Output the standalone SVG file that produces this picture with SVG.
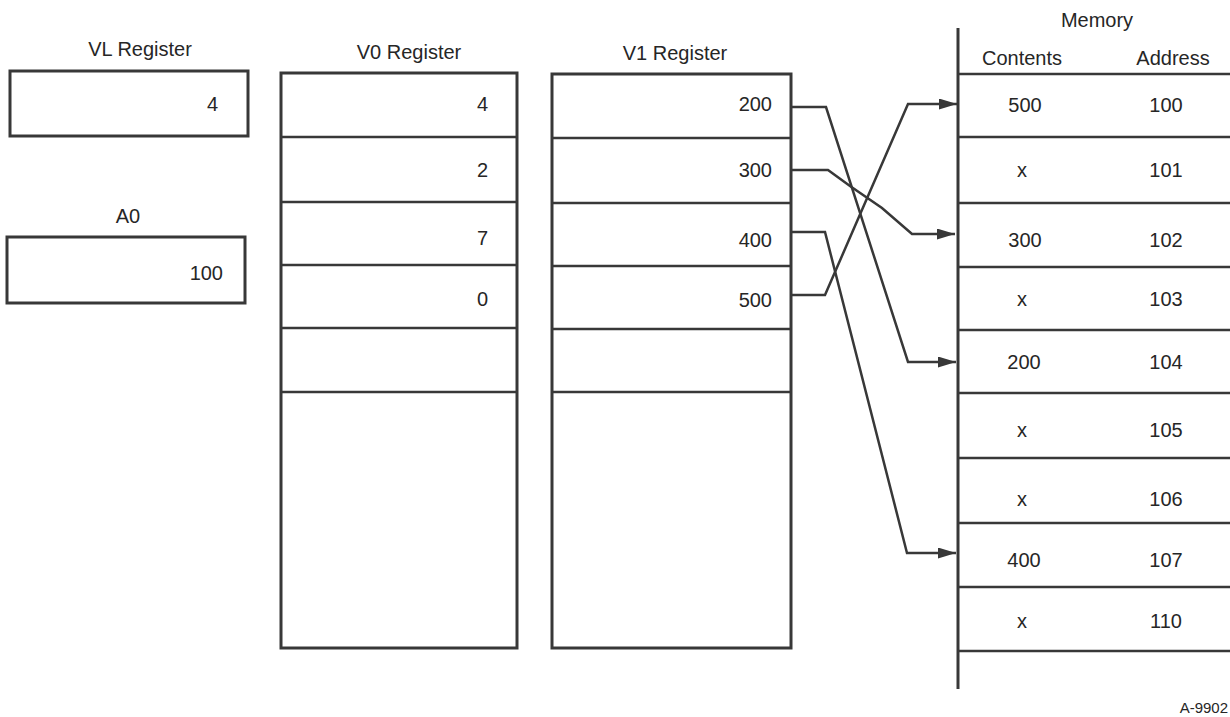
<svg xmlns="http://www.w3.org/2000/svg" width="1230" height="717" viewBox="0 0 1230 717">
<style>
  .bg { fill: #ffffff; }
  .box { fill: none; stroke: #383838; stroke-width: 3; }
  .div { stroke: #383838; stroke-width: 2.5; fill: none; }
  .lbl { font-family: "Liberation Sans", Arial, sans-serif; font-size: 20px; fill: #262626; }
  .mid { text-anchor: middle; }
  .end { text-anchor: end; }
  .conn { fill: none; stroke: #383838; stroke-width: 2.5; stroke-linejoin: miter; }
  .tag { font-family: "Liberation Sans", Arial, sans-serif; font-size: 15px; fill: #262626; }
</style>
<defs>
  <marker id="arrow" markerUnits="userSpaceOnUse" markerWidth="18" markerHeight="12" refX="18" refY="5.5" orient="auto">
    <path d="M0,0 L18,5.5 L0,11 z" fill="#383838"/>
  </marker>
</defs>
<rect class="bg" x="0" y="0" width="1230" height="717"/>

<g id="vl-register">
  <text class="lbl mid" x="140" y="56">VL Register</text>
  <rect class="box" x="10" y="71" width="238" height="65"/>
  <text class="lbl end" x="218" y="111">4</text>
</g>

<g id="a0-register">
  <text class="lbl mid" x="128" y="223">A0</text>
  <rect class="box" x="7" y="237" width="238" height="66"/>
  <text class="lbl end" x="223" y="280">100</text>
</g>

<g id="v0-register">
  <text class="lbl mid" x="409" y="59">V0 Register</text>
  <rect class="box" x="281" y="73" width="236" height="575"/>
  <line class="div" x1="281" y1="137" x2="517" y2="137"/>
  <line class="div" x1="281" y1="202" x2="517" y2="202"/>
  <line class="div" x1="281" y1="265" x2="517" y2="265"/>
  <line class="div" x1="281" y1="328" x2="517" y2="328"/>
  <line class="div" x1="281" y1="392" x2="517" y2="392"/>
  <text class="lbl end" x="488" y="111">4</text>
  <text class="lbl end" x="488" y="177">2</text>
  <text class="lbl end" x="488" y="245">7</text>
  <text class="lbl end" x="488" y="306">0</text>
</g>

<g id="v1-register">
  <text class="lbl mid" x="675" y="60">V1 Register</text>
  <rect class="box" x="552" y="74" width="239" height="574"/>
  <line class="div" x1="552" y1="138" x2="791" y2="138"/>
  <line class="div" x1="552" y1="203" x2="791" y2="203"/>
  <line class="div" x1="552" y1="266" x2="791" y2="266"/>
  <line class="div" x1="552" y1="329" x2="791" y2="329"/>
  <line class="div" x1="552" y1="392" x2="791" y2="392"/>
  <text class="lbl end" x="772" y="111">200</text>
  <text class="lbl end" x="772" y="177">300</text>
  <text class="lbl end" x="772" y="247">400</text>
  <text class="lbl end" x="772" y="307">500</text>
</g>

<g id="memory">
  <text class="lbl mid" x="1097" y="27">Memory</text>
  <text class="lbl mid" x="1022" y="65">Contents</text>
  <text class="lbl mid" x="1173" y="65">Address</text>
  <line class="box" x1="958" y1="28" x2="958" y2="689"/>
  <line class="div" x1="958" y1="74" x2="1230" y2="74"/>
  <line class="div" x1="958" y1="137" x2="1230" y2="137"/>
  <line class="div" x1="958" y1="203" x2="1230" y2="203"/>
  <line class="div" x1="958" y1="267" x2="1230" y2="267"/>
  <line class="div" x1="958" y1="330" x2="1230" y2="330"/>
  <line class="div" x1="958" y1="393" x2="1230" y2="393"/>
  <line class="div" x1="958" y1="458" x2="1230" y2="458"/>
  <line class="div" x1="958" y1="523" x2="1230" y2="523"/>
  <line class="div" x1="958" y1="587" x2="1230" y2="587"/>
  <line class="div" x1="958" y1="651" x2="1230" y2="651"/>
  <text class="lbl mid" x="1025" y="112">500</text>
  <text class="lbl mid" x="1166" y="112">100</text>
  <text class="lbl mid" x="1022" y="177">x</text>
  <text class="lbl mid" x="1166" y="177">101</text>
  <text class="lbl mid" x="1025" y="247">300</text>
  <text class="lbl mid" x="1166" y="247">102</text>
  <text class="lbl mid" x="1022" y="306">x</text>
  <text class="lbl mid" x="1166" y="306">103</text>
  <text class="lbl mid" x="1024" y="369">200</text>
  <text class="lbl mid" x="1166" y="369">104</text>
  <text class="lbl mid" x="1022" y="437">x</text>
  <text class="lbl mid" x="1166" y="437">105</text>
  <text class="lbl mid" x="1022" y="506">x</text>
  <text class="lbl mid" x="1166" y="506">106</text>
  <text class="lbl mid" x="1024" y="567">400</text>
  <text class="lbl mid" x="1166" y="567">107</text>
  <text class="lbl mid" x="1022" y="628">x</text>
  <text class="lbl mid" x="1166" y="628">110</text>
</g>

<g id="connectors">
  <polyline class="conn" points="791,107 826,107 908,362 956,362" marker-end="url(#arrow)"/>
  <polyline class="conn" points="791,170 828,170 850,186 882,208 912,234 955,234" marker-end="url(#arrow)"/>
  <polyline class="conn" points="791,232 825,232 907,553 956,553" marker-end="url(#arrow)"/>
  <polyline class="conn" points="791,295 825,295 908,104 957,104" marker-end="url(#arrow)"/>
</g>

<text class="tag" x="1228" y="713" text-anchor="end">A-9902</text>
</svg>
